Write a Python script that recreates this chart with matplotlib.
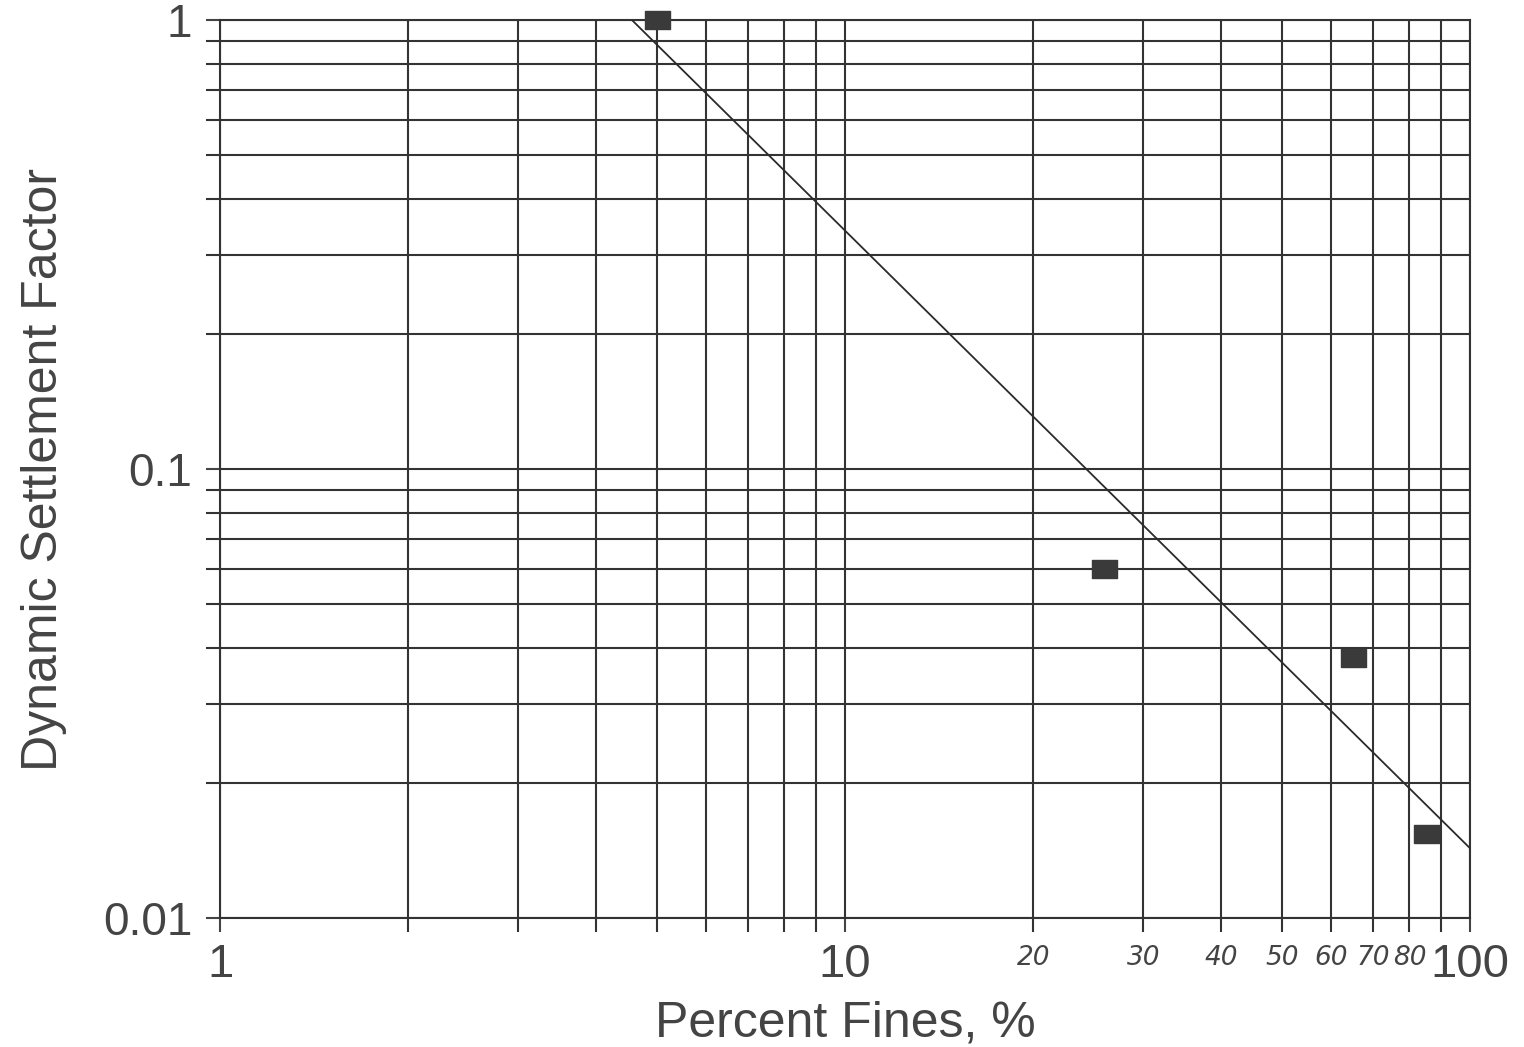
import numpy as np
import matplotlib
matplotlib.use('Agg')
import matplotlib.pyplot as plt
from matplotlib.ticker import LogLocator, NullFormatter, FixedLocator, FixedFormatter
from matplotlib.path import Path
import matplotlib.transforms as mtransforms

# data
fines = [5.0, 26.0, 65.0, 85.0]
factor = [1.0, 0.060, 0.038, 0.0154]
trend_x = [4.56, 100.0]
trend_y = [1.0, 0.0143]
major_x = [1, 10, 100]
major_y = [0.01, 0.1, 1]
major_y_labels = ['0.01', '0.1', '1']
hand_labels = [20, 30, 40, 50, 60, 70, 80]

plt.rcParams['font.family'] = ['Liberation Sans', 'DejaVu Sans']

fig = plt.figure(figsize=(15.24, 10.47), dpi=100)
ax = fig.add_axes([0.1444, 0.1232, 0.8202, 0.8577])

ax.set_xscale('log')
ax.set_yscale('log')
ax.set_xlim(1, 100)
ax.set_ylim(0.01, 1)

grid_col = '#333333'
ax.xaxis.set_major_locator(FixedLocator(major_x))
ax.xaxis.set_major_formatter(FixedFormatter(['1', '10', '100']))
ax.xaxis.set_minor_locator(LogLocator(base=10, subs=np.arange(2, 10)))
ax.xaxis.set_minor_formatter(NullFormatter())
ax.yaxis.set_major_locator(FixedLocator(major_y))
ax.yaxis.set_major_formatter(FixedFormatter(major_y_labels))
ax.yaxis.set_minor_locator(LogLocator(base=10, subs=np.arange(2, 10)))
ax.yaxis.set_minor_formatter(NullFormatter())

ax.grid(True, which='both', color=grid_col, linewidth=1.5)
ax.tick_params(which='both', direction='out', length=10, width=1.5, color=grid_col)
ax.tick_params(axis='both', which='major', labelsize=34, colors='#444444', pad=8)
ax.tick_params(axis='y', which='major', labelsize=33, pad=10)
for s in ax.spines.values():
    s.set_color(grid_col)
    s.set_linewidth(1.5)

# slightly wide rectangle marker
rect = Path([(-1.45, -1), (1.45, -1), (1.45, 1), (-1.45, 1), (-1.45, -1)],
            [Path.MOVETO, Path.LINETO, Path.LINETO, Path.LINETO, Path.CLOSEPOLY])

ax.plot(trend_x, trend_y, color='#2a2a2a', linewidth=1.3, zorder=3)
ax.plot(fines, factor, linestyle='none', marker=rect, markersize=18,
        color='#3a3a3a', zorder=4, clip_on=False)

# hand-written intermediate labels
trans = mtransforms.blended_transform_factory(ax.transData, ax.transAxes)
for v in hand_labels:
    ax.text(v, -0.045, str(v), transform=trans, ha='center', va='center',
            fontsize=19, fontstyle='italic', family='DejaVu Sans', color='#444444')

ax.set_xlabel('Percent Fines, %', fontsize=36, color='#444444', labelpad=10)
ax.set_ylabel('Dynamic Settlement Factor', fontsize=36, color='#444444', labelpad=26)

fig.savefig('out.png', dpi=100, facecolor='white')
